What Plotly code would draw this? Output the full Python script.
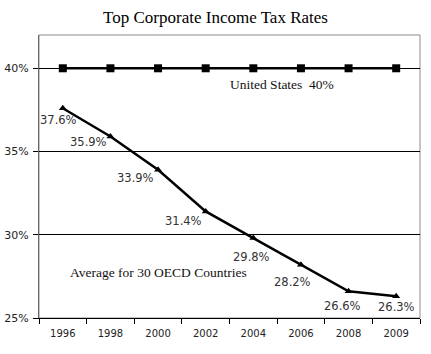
import plotly.graph_objects as go

years = ["1996", "1998", "2000", "2002", "2004", "2006", "2008", "2009"]
us_rate = [40, 40, 40, 40, 40, 40, 40, 40]
oecd_rate = [37.6, 35.9, 33.9, 31.4, 29.8, 28.2, 26.6, 26.3]
oecd_labels = ["37.6%", "35.9%", "33.9%", "31.4%", "29.8%", "28.2%", "26.6%", "26.3%"]
y_ticks = [25, 30, 35, 40]
y_tick_labels = ["25%", "30%", "35%", "40%"]

# pixel offsets of the data labels relative to their points
label_offsets = [(-4, -12), (-22, -5), (-23, -8), (-22, -10), (-2, -19), (-8, -17), (-6, -15), (0, -11)]

fig = go.Figure()
fig.add_trace(go.Scatter(
    x=years, y=us_rate, mode="lines+markers",
    line=dict(color="black", width=2.5),
    marker=dict(symbol="square", size=8, color="black"),
    showlegend=False, hoverinfo="skip"))
fig.add_trace(go.Scatter(
    x=years, y=oecd_rate, mode="lines+markers",
    line=dict(color="black", width=2.5),
    marker=dict(symbol="triangle-up", size=7, color="black"),
    showlegend=False, hoverinfo="skip"))

sans = "DejaVu Sans"
serif = "Liberation Serif"

for i, (yr, v, lab) in enumerate(zip(years, oecd_rate, oecd_labels)):
    dx, dy = label_offsets[i]
    fig.add_annotation(x=i, y=v, text=lab, showarrow=False,
                       xshift=dx, yshift=dy, xanchor="center", yanchor="middle",
                       font=dict(family=sans, size=11.5, color="#333333"))

fig.add_annotation(x=4.6, y=39.0, text="United States&nbsp;&nbsp;40%", showarrow=False,
                   xanchor="center", yanchor="middle",
                   font=dict(family=serif, size=13.5, color="#111111"))
fig.add_annotation(x=0.11, y=27.76, text="Average for 30 OECD Countries", showarrow=False,
                   xanchor="left", yanchor="middle",
                   font=dict(family=serif, size=13.5, color="#111111"))

fig.add_shape(type="rect", xref="paper", yref="paper", x0=0, y0=0, x1=1, y1=1,
              line=dict(color="#8c8c8c", width=1), layer="below")

fig.update_layout(
    width=431, height=354,
    margin=dict(l=39, r=11, t=35, b=36),
    paper_bgcolor="white", plot_bgcolor="white",
    title=dict(text="Top Corporate Income Tax Rates", xref="container", x=0.5,
               yref="container", y=1 - 17 / 354, yanchor="middle", xanchor="center",
               font=dict(family=serif, size=17, color="black")),
    xaxis=dict(type="category", range=[-0.5, 7.5], showgrid=False, automargin=False,
               showline=True, linecolor="black", linewidth=1,
               ticks="outside", tickson="boundaries", ticklen=5, tickcolor="black",
               ticklabelstandoff=6,
               tickfont=dict(family=sans, size=10, color="#222222"), zeroline=False),
    yaxis=dict(range=[25, 42], tickvals=y_ticks, ticktext=y_tick_labels, automargin=False,
               showgrid=True, gridcolor="black", gridwidth=1,
               showline=True, linecolor="#666666", linewidth=1,
               ticks="outside", ticklen=5, tickcolor="black",
               ticklabelstandoff=2,
               tickfont=dict(family=sans, size=11, color="#222222"), zeroline=False),
)

fig.write_html("out.html")
